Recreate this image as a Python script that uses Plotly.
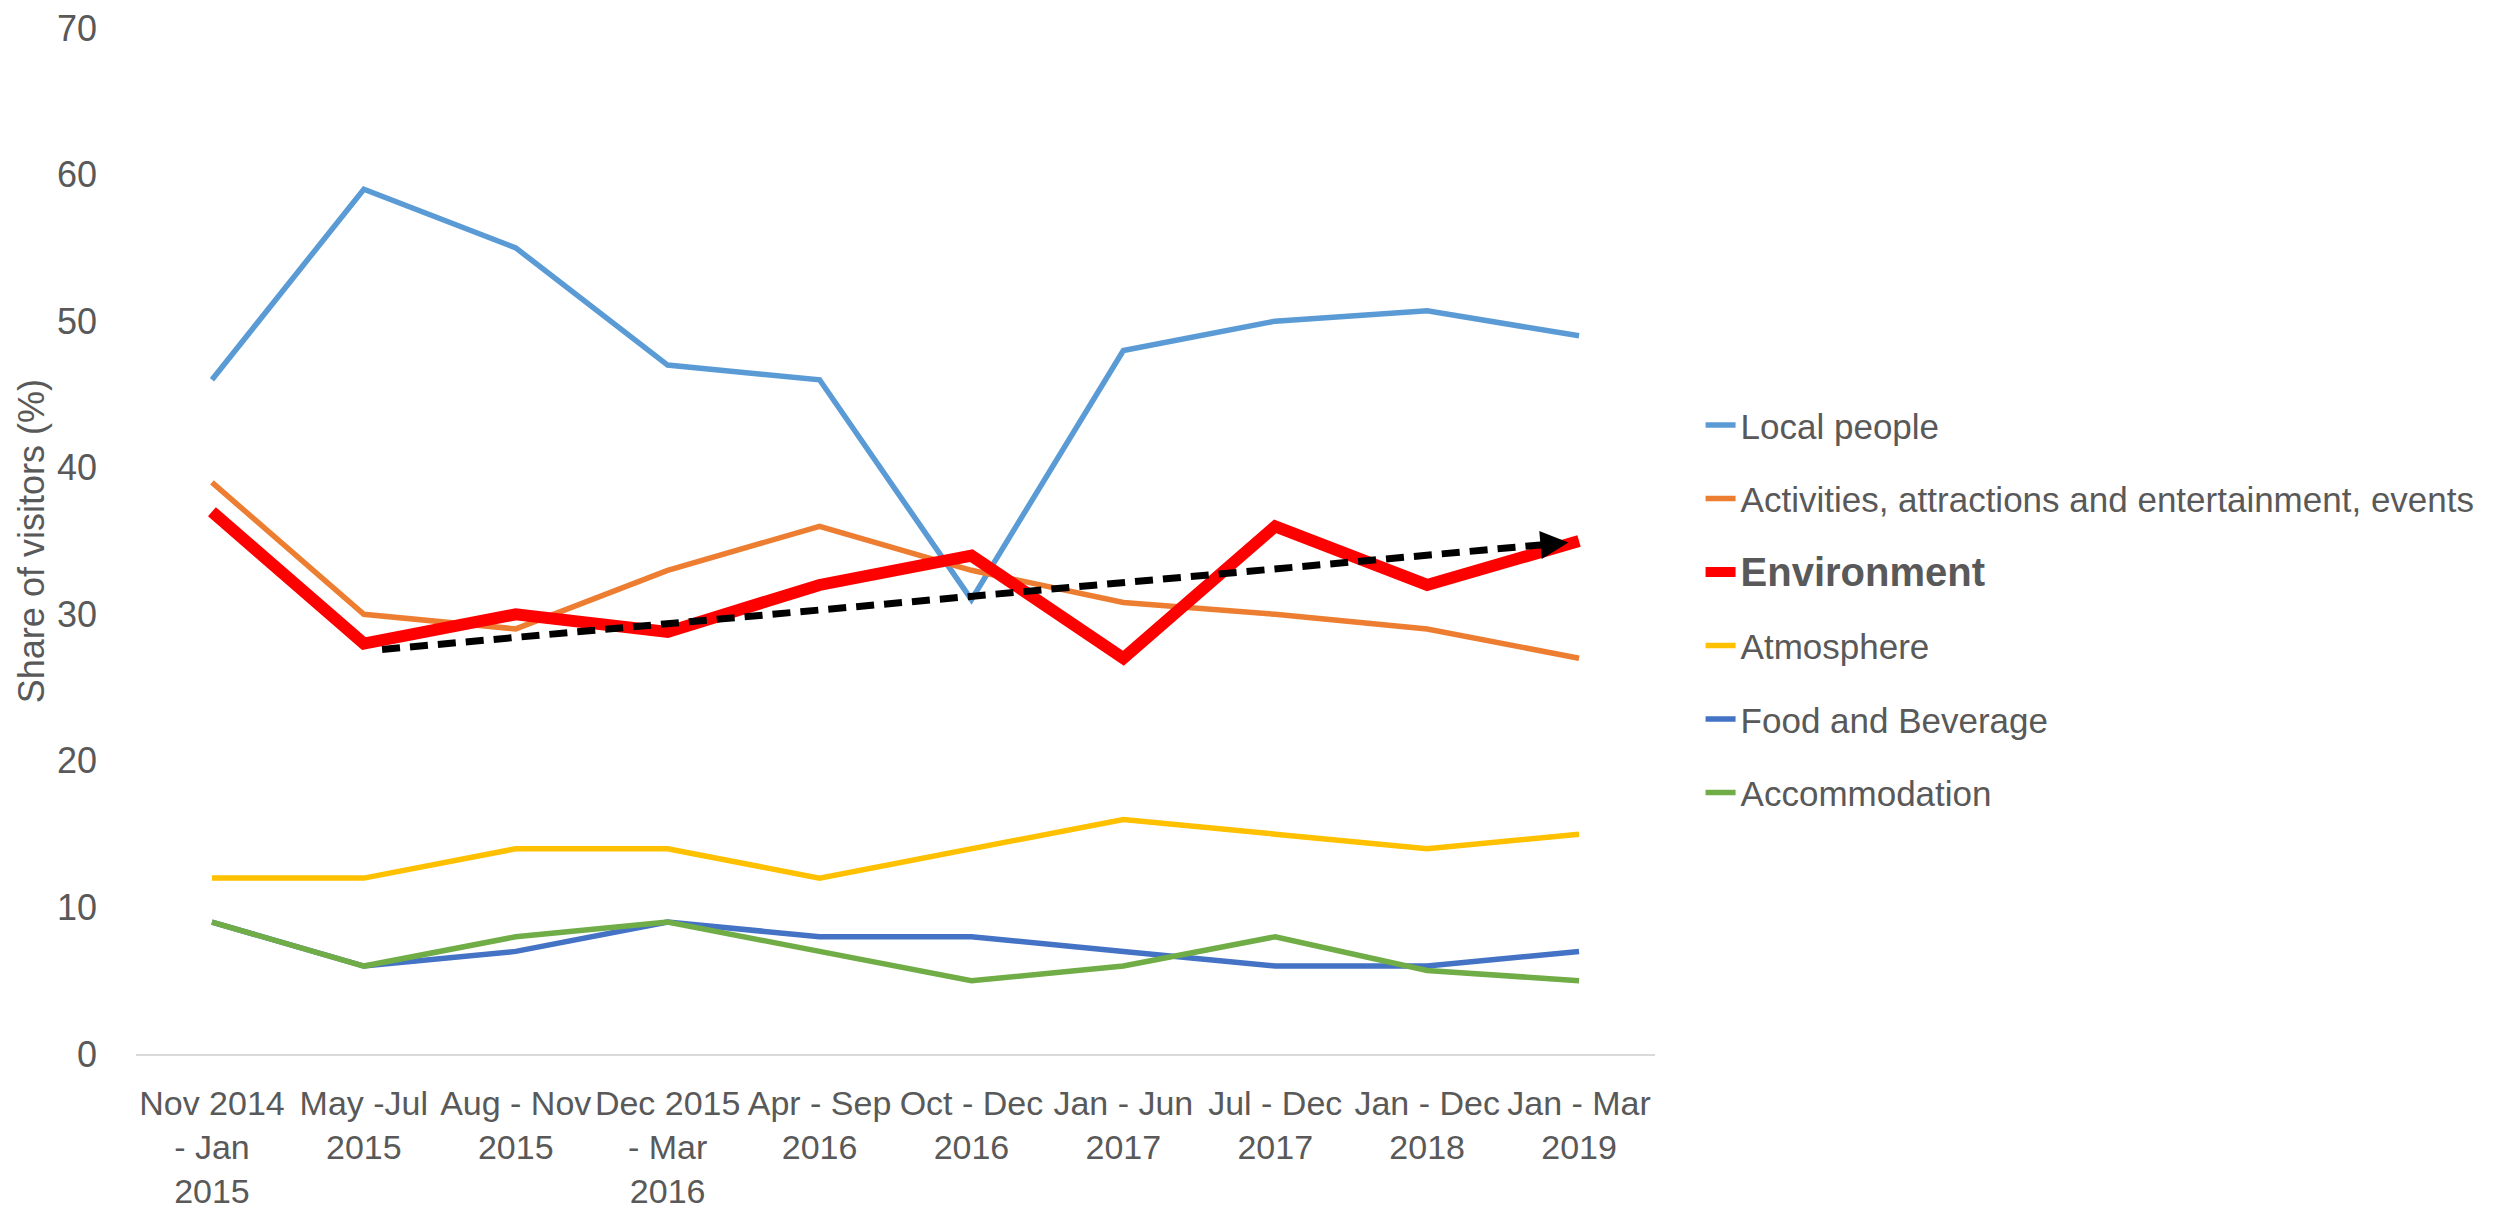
import plotly.graph_objects as go

# ---- data ----
categories = [
    "Nov 2014<br>- Jan<br>2015", "May -Jul<br>2015", "Aug - Nov<br>2015",
    "Dec 2015<br>- Mar<br>2016", "Apr - Sep<br>2016", "Oct - Dec<br>2016",
    "Jan - Jun<br>2017", "Jul - Dec<br>2017", "Jan - Dec<br>2018", "Jan - Mar<br>2019",
]
local_people = [46, 59, 55, 47, 46, 31, 48, 50, 50.7, 49]
activities = [39, 30, 29, 33, 36, 33, 30.8, 30, 29, 27]
environment = [37, 28, 30, 28.8, 32, 34, 27, 36, 32, 35]
atmosphere = [12, 12, 14, 14, 12, 14, 16, 15, 14, 15]
food_beverage = [9, 6, 7, 9, 8, 8, 7, 6, 6, 7]
accommodation = [9, 6, 8, 9, 7, 5, 6, 8, 5.7, 5]

y_ticks = [0, 10, 20, 30, 40, 50, 60, 70]

# trend arrow (category index, value)
trend_start = (1.12, 27.6)
trend_end = (8.93, 34.9)

FONT = "Liberation Sans Narrow, Arial Narrow, Liberation Sans, sans-serif"
TXT = "#595959"

series = [
    ("Local people", local_people, "#5B9BD5", 5.5),
    ("Activities, attractions and entertainment, events", activities, "#ED7D31", 5.5),
    ("<b><span style='font-size:40px'>Environment</span></b>", environment, "#FF0000", 12),
    ("Atmosphere", atmosphere, "#FFC000", 5.5),
    ("Food and Beverage", food_beverage, "#4472C4", 5.5),
    ("Accommodation", accommodation, "#70AD47", 5.5),
]

fig = go.Figure()
for i, (name, vals, color, w) in enumerate(series):
    fig.add_trace(go.Scatter(
        x=categories, y=vals, name=name, mode="lines",
        line=dict(color=color, width=w),
        legendgroup=f"g{i}",
    ))

# dashed trend line with arrow head
slope = (trend_end[1] - trend_start[1]) / (trend_end[0] - trend_start[0])
head_x = trend_end[0] - 0.16
head_y = trend_end[1] - slope * 0.16
fig.add_shape(type="line", xref="x", yref="y",
              x0=trend_start[0], y0=trend_start[1], x1=head_x, y1=head_y,
              line=dict(color="black", width=7, dash="18px,10px"))
fig.add_annotation(x=trend_end[0], y=trend_end[1], ax=head_x, ay=head_y,
                   xref="x", yref="y", axref="x", ayref="y",
                   showarrow=True, arrowhead=2, arrowsize=0.8, arrowwidth=7,
                   arrowcolor="black", text="")

fig.add_annotation(text="Share of visitors (%)", xref="paper", yref="paper",
                   x=-0.069, xanchor="center", y=0.5, yanchor="middle",
                   textangle=-90, showarrow=False,
                   font=dict(family=FONT, size=36, color=TXT))

fig.update_layout(
    width=2501, height=1212,
    paper_bgcolor="white", plot_bgcolor="white",
    margin=dict(l=128, r=854, t=20, b=166, autoexpand=False),
    font=dict(family=FONT, color=TXT, size=34),
    showlegend=True,
    legend=dict(x=1.03, xanchor="left", y=0.434, yanchor="middle",
                tracegroupgap=25, font=dict(family=FONT, size=35, color=TXT),
                bgcolor="rgba(0,0,0,0)"),
    xaxis=dict(type="category", range=[-0.5, 9.5], showgrid=False, zeroline=False,
               showline=True, linecolor="#D9D9D9", linewidth=2, ticks="",
               tickfont=dict(family=FONT, size=34, color=TXT),
               ticklabelstandoff=18, ticklabeloverflow="allow"),
    yaxis=dict(range=[0, 70], tickvals=y_ticks, showgrid=False, zeroline=False,
               showline=False, ticks="",
               tickfont=dict(family=FONT, size=36, color=TXT),
               ticklabelstandoff=38, ticklabeloverflow="allow"),
)

fig.write_html("out.html")
